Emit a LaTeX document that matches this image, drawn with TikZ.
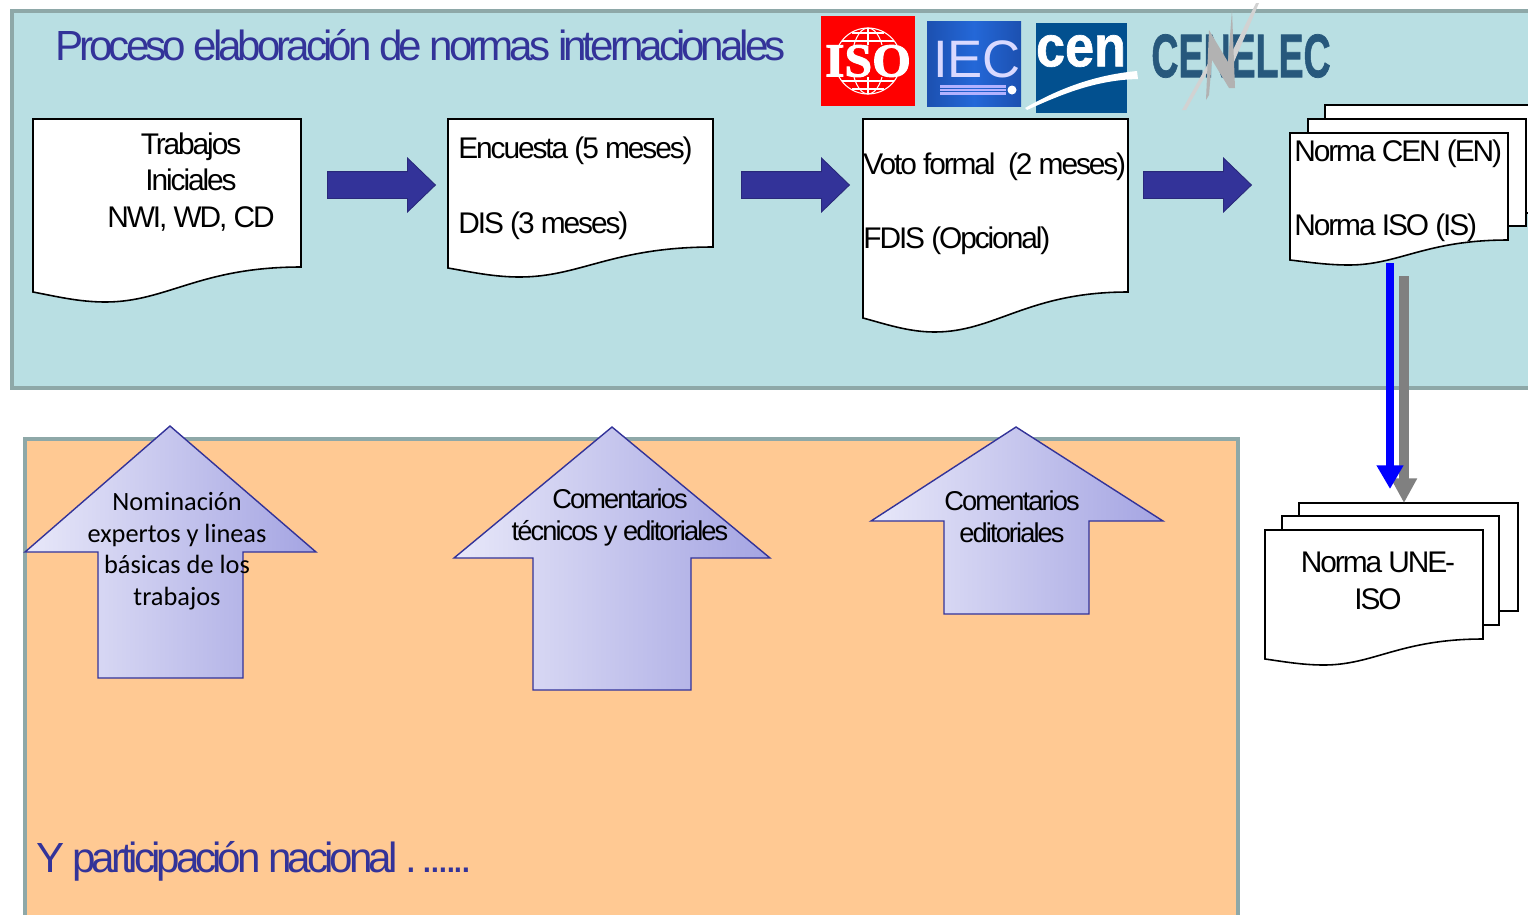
\documentclass[tikz,border=0pt]{standalone}
\usepackage{fontspec}
\usepackage{amsmath, amssymb}
\usetikzlibrary{arrows.meta,shapes.arrows}
\setmainfont{Liberation Sans}[BoldFeatures={FakeBold=1.2}]
\newfontfamily\tightfont[LetterSpace=-9.5]{Liberation Sans}
\newfontfamily\bodyfont[LetterSpace=-7]{Liberation Sans}
\newfontfamily\nomfont{Carlito}
\newfontfamily\isofont[BoldFeatures={FakeBold=2}]{Liberation Serif}
\definecolor{panelblue}{HTML}{B9DFE3}
\definecolor{panelorange}{HTML}{FFC993}
\definecolor{panelline}{HTML}{8EA8A8}
\definecolor{inkblue}{HTML}{333399}
\definecolor{cenblue}{HTML}{02508F}
\definecolor{celblue}{HTML}{27587C}
\definecolor{upleft}{HTML}{E8E8F9}
\definecolor{upright}{HTML}{A4A4E2}
\definecolor{ieca}{HTML}{1C50B0}
\definecolor{iecb}{HTML}{2468D8}
\tikzset{
  panel/.style={draw=panelline,line width=2.4pt},
  docline/.style={draw=black,fill=white,line width=0.9pt},
  bluearrow/.style={single arrow,draw=inkblue!80!black,fill=inkblue,line width=0.5pt,inner sep=0pt,anchor=tail,
    minimum height=2.16cm,single arrow head extend=0.27cm,single arrow tip angle=88},
  uparrow/.style={draw=inkblue,line width=0.8pt,left color=upleft,right color=upright},
  doctext/.style={font=\bodyfont\fontsize{17}{21}\selectfont,inner sep=0pt},
  uptext/.style={font=\bodyfont\fontsize{15.5}{18.2}\selectfont,align=center,inner sep=0pt},
  bigtext/.style={font=\tightfont\fontsize{24}{28}\selectfont,text=inkblue,inner sep=0pt},
}
% x0, x1, top, right end, left end, lowest point of the wave
\newcommand{\docsheet}[6]{
  \pgfmathsetmacro\docw{#2-#1}
  \draw[docline] (#1,#3) -- (#2,#3) -- (#2,#4)
    .. controls ({#1+.62*\docw},#4) and ({#1+.5*\docw},#6) .. ({#1+.27*\docw},#6)
    .. controls ({#1+.17*\docw},#6) and ({#1+.08*\docw},{#5+.4*(#6-#5)}) .. (#1,#5) -- cycle;
}
% tip x, tip y, head left, head right, head y, shaft left, shaft right, bottom
\newcommand{\uparrowshape}[8]{
  \draw[uparrow] (#1,#2) -- (#4,#5) -- (#7,#5) -- (#7,#8) -- (#6,#8) -- (#6,#5) -- (#3,#5) -- cycle;
}
\begin{document}
\begin{tikzpicture}[x=0.02cm,y=-0.02cm]
  \clip (0,0) rectangle (1528,914);
  % panels
  \draw[panel,fill=panelblue] (12,11) rectangle (1545,388);
  \draw[panel,fill=panelorange] (25,439) rectangle (1238,935);
  \node[bigtext,anchor=base west] (title) at (55,60) {Proceso elaboración de normas internacionales};
  \node[bigtext,anchor=base west] (nacional) at (36,872) {Y participación nacional .\hspace{-3pt} ......};

  % logos
  \fill[red] (821,16) rectangle (915,106);
  \begin{scope}[white,line width=0.6pt]
    \draw (868,61) circle (33);
    \draw (868,61) ellipse (16 and 33);
    \draw (868,28) -- (868,94);
    \draw (842,41) -- (894,41);
    \draw (842,81) -- (894,81);
    \draw (852,33) -- (884,33);
    \draw (852,89) -- (884,89);
  \end{scope}
  \fill[red] (825,45) rectangle (911,77);
  \node[font=\isofont\bfseries\fontsize{27}{27}\selectfont,text=white,inner sep=0pt] (isologo) at (868,61) {\scalebox{1.05}[1]{ISO}};
  \shade[left color=ieca,right color=ieca,middle color=iecb] (927,21) rectangle (1021,106);
  \node[font=\fontsize{30}{30}\selectfont,text=white!85!blue,inner sep=0pt] (ieclogo) at (977,59) {IEC};
  \foreach \ybar in {85,88.5,92}
    \fill[white!70!blue] (940,\ybar) rectangle (1006,\ybar+2.5);
  \fill[white] (1012,90) circle (4.5);
  \fill[cenblue] (1036,23) rectangle (1127,113);
  \node[font=\bfseries\fontsize{33}{33}\selectfont,text=white,inner sep=0pt] (cenlogo) at (1081,51) {\scalebox{.9}[1]{cen}};
  \fill[white] (1025,108) .. controls (1060,88) and (1095,75) .. (1137,71) -- (1138,79)
    .. controls (1095,80) and (1060,95) .. (1027,110) -- cycle;
  \node[font=\bfseries\fontsize{35}{35}\selectfont,text=celblue,inner sep=0pt] (cenelec) at (1241,56) {\scalebox{.61}[1]{CENELEC}};
  \fill[gray!35] (1182,110) -- (1210,60) -- (1212,64) -- (1186,110) -- cycle;
  \fill[gray!35] (1228,60) -- (1256,3) -- (1259,3) -- (1234,62) -- cycle;
  \fill[gray!60] (1206,100) -- (1209,30) -- (1228,62) -- (1232,10) -- (1235,88) -- (1229,88) -- (1212,60) -- (1209,95) -- cycle;

  % documents
  \docsheet{33}{301}{119}{267}{292}{302}
  \docsheet{448}{713}{119}{247}{268}{277}
  \docsheet{863}{1128}{119}{292}{318}{332}
  \node[doctext,align=center] (trabajos) at (191,182) {Trabajos\\Iniciales\\NWI, WD, CD};
  \node[doctext,anchor=west] (encuesta) at (458,151) {Encuesta (5 meses)};
  \node[doctext,anchor=west] (dis) at (458,226) {DIS (3 meses)};
  \node[doctext,anchor=west] (voto) at (863,167) {Voto formal\ \ (2 meses)};
  \node[doctext,anchor=west] (fdis) at (863,241) {FDIS (Opcional)};
  \draw[docline] (1325,105) rectangle (1545,213);
  \draw[docline] (1308,119) rectangle (1526,226);
  \docsheet{1290}{1508}{133}{240}{260}{265}
  \node[doctext,anchor=west] (normacen) at (1294,154) {Norma CEN (EN)};
  \node[doctext,anchor=west] (normaiso) at (1294,228) {Norma ISO (IS)};
  \draw[docline] (1299,503) rectangle (1518,611);
  \draw[docline] (1282,516) rectangle (1499,625);
  \docsheet{1265}{1483}{530}{639}{659}{665}
  \node[doctext,align=center] (normaune) at (1378,581) {Norma UNE-\\ISO};

  % arrows between the documents
  \node[bluearrow] (paso1) at (327,185) {\rule{0pt}{0.52cm}};
  \node[bluearrow] (paso2) at (741,185) {\rule{0pt}{0.52cm}};
  \node[bluearrow] (paso3) at (1143,185) {\rule{0pt}{0.52cm}};

  % down to the national standard
  \coordinate (grisa) at (1404,276);
  \coordinate (grisb) at (1404,503);
  \coordinate (azula) at (1390,263);
  \coordinate (azulb) at (1390,489);
  \draw[gray,line width=5.6pt,-{Triangle[length=14pt,width=14pt]}] (grisa) -- (grisb);
  \draw[blue,line width=4.6pt,-{Triangle[length=13.5pt,width=14.5pt]}] (azula) -- (azulb);

  % up arrows
  \uparrowshape{170}{426}{25}{316}{552}{98}{243}{678}
  \uparrowshape{612}{427}{454}{770}{558}{533}{691}{690}
  \uparrowshape{1016}{427}{871}{1163}{521}{944}{1089}{614}
  \node[font=\nomfont\fontsize{15}{18}\selectfont,align=center,inner sep=0pt] (nominacion) at (177,551)
    {Nominación\\expertos y lineas\\básicas de los\\trabajos};
  \node[uptext] (comtecnicos) at (620,517) {Comentarios\\técnicos y editoriales};
  \node[uptext] (comeditoriales) at (1012,517) {Comentarios\\editoriales};
\end{tikzpicture}
\end{document}
